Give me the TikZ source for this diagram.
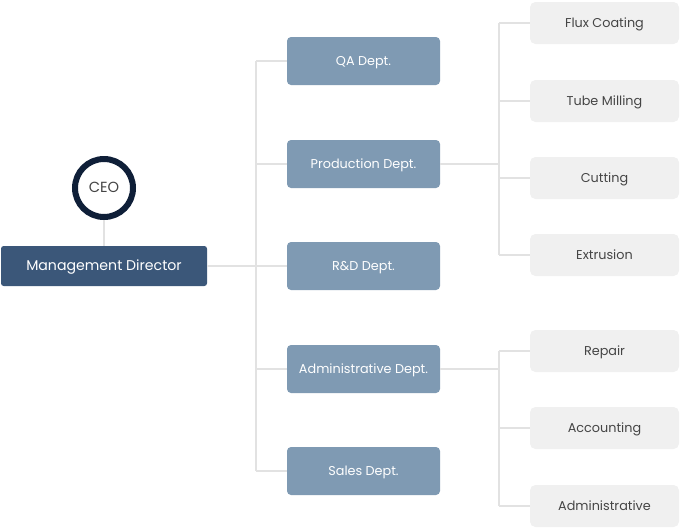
\documentclass[tikz,border=0pt]{standalone}
\usepackage{fontspec}
\setmainfont{Poppins}
\definecolor{mdblue}{HTML}{3B5779}
\definecolor{deptblue}{HTML}{7F9AB3}
\definecolor{ringnavy}{HTML}{0F1F38}
\definecolor{linegray}{HTML}{E2E2E2}
\definecolor{boxgray}{HTML}{F0F0F0}
\definecolor{txtgray}{HTML}{454545}
\begin{document}
\begin{tikzpicture}[x=0.75pt,y=-0.75pt,
  conn/.style={draw=linegray,line width=0.9pt},
  txt/.style={text height=0.62em,text depth=0pt,inner sep=0pt},
  mdbox/.style={txt,fill=mdblue,rounded corners=2pt,minimum width=206*0.75pt,minimum height=40*0.75pt,text=white,font=\fontsize{10.6pt}{12pt}\selectfont},
  deptbox/.style={txt,fill=deptblue,rounded corners=3pt,minimum width=153*0.75pt,minimum height=48*0.75pt,text=white,font=\fontsize{9.6pt}{11pt}\selectfont},
  subbox/.style={txt,fill=boxgray,rounded corners=4pt,minimum width=149*0.75pt,minimum height=42*0.75pt,text=txtgray,font=\fontsize{9.6pt}{11pt}\selectfont},
  ceo/.style={txt,circle,draw=ringnavy,line width=4.5pt,fill=white,minimum size=58*0.75pt,text=txtgray,font=\fontsize{11pt}{12pt}\selectfont}]
\useasboundingbox (0,0) rectangle (682,529);
% nodes
\node[mdbox] (md) at (104,266) {Management Director};
\node[ceo] (ceo) at (104,188) {CEO};
\node[deptbox] (qa) at (363.5,61) {QA Dept.};
\node[deptbox] (prod) at (363.5,164) {Production Dept.};
\node[deptbox] (rd) at (363.5,266) {R\&D Dept.};
\node[deptbox] (adm) at (363.5,369) {Administrative Dept.};
\node[deptbox] (sales) at (363.5,471) {Sales Dept.};
\node[subbox] (flux) at (604.5,23) {Flux Coating};
\node[subbox] (tube) at (604.5,101) {Tube Milling};
\node[subbox] (cut) at (604.5,178) {Cutting};
\node[subbox] (extr) at (604.5,255) {Extrusion};
\node[subbox] (rep) at (604.5,351) {Repair};
\node[subbox] (acc) at (604.5,428) {Accounting};
\node[subbox] (admi) at (604.5,506) {Administrative};
% coordinates
\coordinate (t1) at (256,61);
\coordinate (t2) at (256,471);
\coordinate (p1) at (499,23);
\coordinate (p2) at (499,255);
\coordinate (a1) at (499,351);
\coordinate (a2) at (499,506);
% connectors
\draw[conn] (ceo.south) -- (md.north);
\draw[conn] (md.east) -- (rd.west);
\draw[conn] (t1) -- (t2);
\foreach \d in {qa,prod,rd,adm,sales}{\draw[conn] (\d.west) -- (\d.west -| t1);}
\draw[conn] (p1) -- (p2);
\draw[conn] (prod.east) -- (prod.east -| p1);
\foreach \s in {flux,tube,cut,extr}{\draw[conn] (\s.west) -- (\s.west -| p1);}
\draw[conn] (a1) -- (a2);
\draw[conn] (adm.east) -- (adm.east -| a1);
\foreach \s in {rep,acc,admi}{\draw[conn] (\s.west) -- (\s.west -| a1);}
\end{tikzpicture}
\end{document}
